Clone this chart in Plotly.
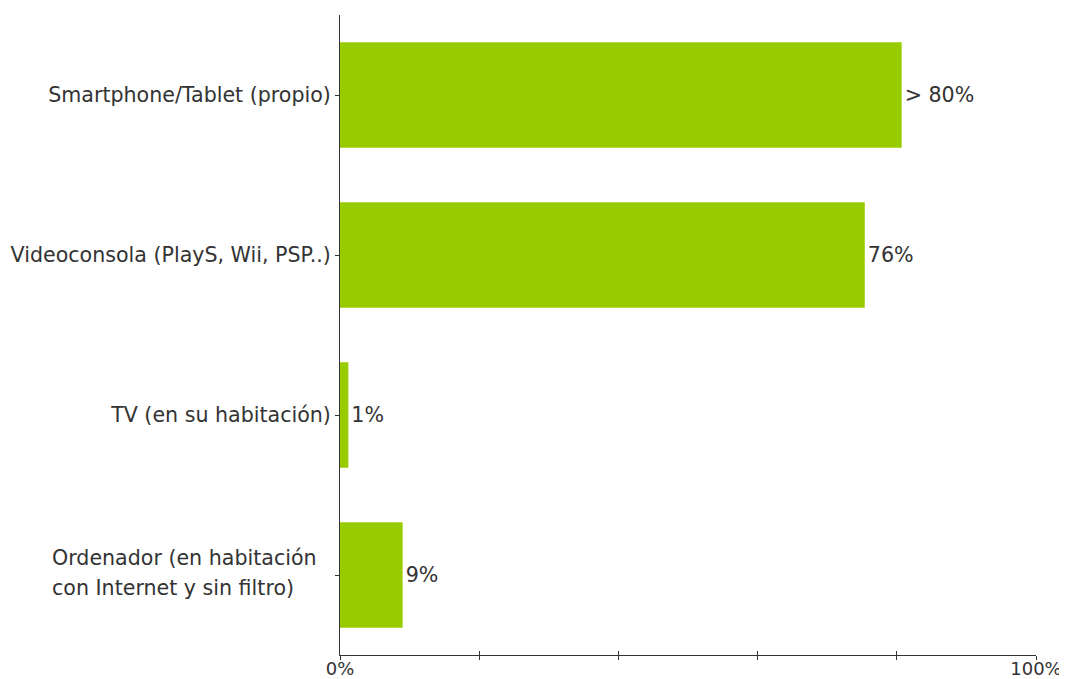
import plotly.graph_objects as go

categories = [
    "Smartphone/Tablet (propio)",
    "Videoconsola (PlayS, Wii, PSP..)",
    "TV (en su habitación)",
    "Ordenador (en habitación con Internet y sin filtro)",
]
ordenador_lines = ["Ordenador (en habitación", "con Internet y sin filtro)"]
values = [80.7, 75.4, 1.2, 9.0]
value_labels = ["> 80%", "76%", "1%", "9%"]
x_tickvals = [0, 20, 40, 60, 80, 100]
x_ticktext = ["0%", "", "", "", "", "100%"]

font_family = "DejaVu Sans, Verdana, sans-serif"
text_color = "#333333"
fs = 20.6

# page body has an 8px margin; compensate so the plot area lands at x 340-1036, y 15-655
OFF = 8

fig = go.Figure()
fig.add_trace(go.Bar(
    y=categories,
    x=values,
    orientation="h",
    marker=dict(color="#99CC00", line=dict(width=0)),
    width=0.66,
    text=value_labels,
    textposition="outside",
    textfont=dict(family=font_family, size=fs, color=text_color),
    cliponaxis=False,
    hoverinfo="skip",
))
# invisible helper trace so the overlay axis (inner half of the crossing ticks) is drawn
fig.add_trace(go.Scatter(
    x=[0], y=[categories[0]], xaxis="x2", mode="markers",
    marker=dict(opacity=0), hoverinfo="skip", showlegend=False,
))

fig.update_layout(
    width=1067,
    height=679,
    margin=dict(l=340 - OFF, r=31 + OFF, t=15 - OFF, b=24 + OFF),
    paper_bgcolor="white",
    plot_bgcolor="white",
    showlegend=False,
    font=dict(family=font_family, size=fs, color=text_color),
    xaxis=dict(
        range=[0, 100],
        tickvals=x_tickvals,
        ticktext=x_ticktext,
        ticks="outside",
        ticklen=4,
        tickcolor="#333333",
        showline=True,
        linecolor="#333333",
        linewidth=1,
        showgrid=False,
        zeroline=False,
        automargin=False,
        fixedrange=True,
        ticklabelstandoff=-7,
        tickfont=dict(family=font_family, size=18, color=text_color),
    ),
    xaxis2=dict(
        overlaying="x",
        anchor="y",
        side="bottom",
        range=[0, 100],
        tickvals=x_tickvals,
        ticks="inside",
        ticklen=4,
        tickcolor="#333333",
        showticklabels=False,
        showline=False,
        showgrid=False,
        zeroline=False,
        automargin=False,
        fixedrange=True,
    ),
    yaxis=dict(
        categoryorder="array",
        categoryarray=categories,
        autorange="reversed",
        tickvals=categories,
        ticktext=categories[:3] + [""],
        ticks="outside",
        ticklen=4,
        tickcolor="#333333",
        showline=True,
        linecolor="#333333",
        linewidth=1,
        showgrid=False,
        zeroline=False,
        automargin=False,
        tickfont=dict(family=font_family, size=fs, color=text_color),
    ),
)

for line, shift in zip(ordenador_lines, [17, -13]):
    fig.add_annotation(
        xref="paper", yref="y",
        x=(50 - 340) / 696, y=categories[3],
        xanchor="left", yanchor="middle",
        yshift=shift,
        text=line,
        align="left",
        showarrow=False,
        font=dict(family=font_family, size=fs, color=text_color),
    )

fig.write_html("out.html")
